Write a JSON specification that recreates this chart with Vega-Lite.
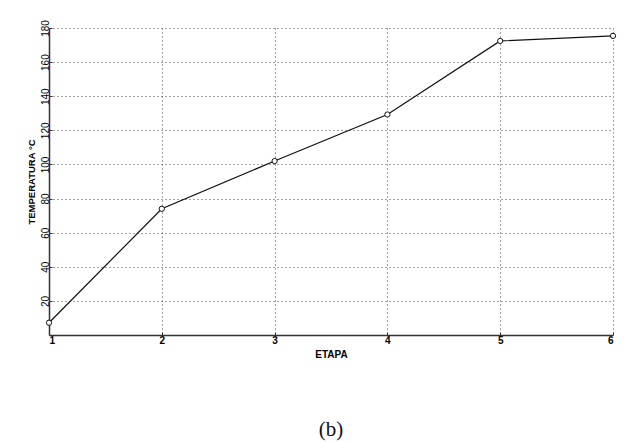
{
  "$schema": "https://vega.github.io/schema/vega-lite/v6.json",
  "autosize": "none",
  "width": 564,
  "height": 307,
  "padding": {"left": 49, "top": 28, "right": 12, "bottom": 108},
  "background": "white",
  "config": {
    "view": {"stroke": null},
    "font": "Liberation Sans"
  },
  "title": {
    "text": "(b)",
    "orient": "bottom",
    "anchor": "middle",
    "font": "Liberation Serif",
    "fontSize": 21,
    "fontWeight": "normal",
    "color": "#111",
    "offset": 60
  },
  "data": {
    "values": [
      {"etapa": 1, "temp": 7.2},
      {"etapa": 2, "temp": 74},
      {"etapa": 3, "temp": 102},
      {"etapa": 4, "temp": 129.3},
      {"etapa": 5, "temp": 172.4},
      {"etapa": 6, "temp": 175.4}
    ]
  },
  "encoding": {
    "x": {
      "field": "etapa", "type": "quantitative",
      "scale": {"domain": [1, 6], "nice": false, "zero": false},
      "axis": {
        "title": "ETAPA", "values": [1, 2, 3, 4, 5, 6],
        "titleFont": "Liberation Sans", "titleFontSize": 10, "titleFontWeight": "bold", "titleColor": "#000",
        "titlePadding": 4,
        "labelFont": "Liberation Sans", "labelFontSize": 10, "labelFontWeight": "bold", "labelColor": "#000",
        "labelPadding": 3,
        "domainColor": "#333", "domainWidth": 1.5,
        "tickColor": "#333", "tickSize": -3,
        "grid": true, "gridColor": "#444", "gridDash": [1, 3], "gridWidth": 1
      }
    },
    "y": {
      "field": "temp", "type": "quantitative",
      "scale": {"domain": [0, 180], "nice": false},
      "axis": {
        "title": "TEMPERATURA °C", "values": [20, 40, 60, 80, 100, 120, 140, 160, 180],
        "titleFont": "Liberation Sans", "titleFontSize": 9.5, "titleFontWeight": "bold", "titleColor": "#000",
        "titlePadding": 4,
        "labelFont": "Liberation Sans", "labelFontSize": 10, "labelColor": "#000",
        "labelAngle": 270, "labelAlign": "center", "labelBaseline": "bottom",
        "labelPadding": 2,
        "domainColor": "#333", "domainWidth": 1.5,
        "tickColor": "#333", "tickSize": -3,
        "grid": true, "gridColor": "#444", "gridDash": [1, 3], "gridWidth": 1
      }
    }
  },
  "layer": [
    {"mark": {"type": "line", "color": "#111", "strokeWidth": 1.2}},
    {"mark": {"type": "point", "shape": "circle", "filled": true, "fill": "white", "stroke": "#111", "strokeWidth": 1, "size": 28, "opacity": 1}}
  ]
}
